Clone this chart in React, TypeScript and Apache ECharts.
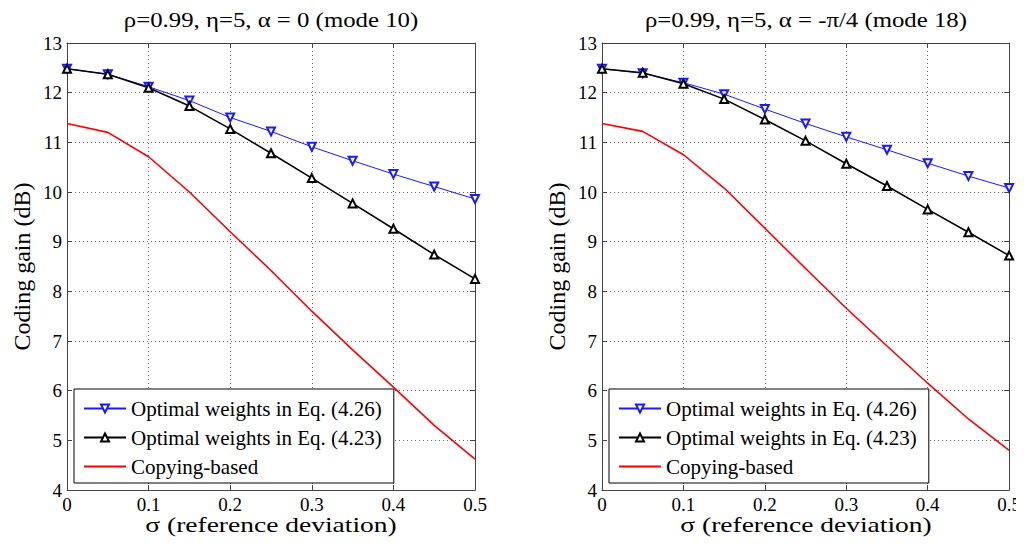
import React, { useEffect, useRef } from "react";
import * as echarts from "echarts";

const sigma = [0, 0.05, 0.1, 0.15, 0.2, 0.25, 0.3, 0.35, 0.4, 0.45, 0.5];

// Left panel: alpha = 0 (mode 10)
const leftEq426 = [12.48, 12.37, 12.12, 11.84, 11.5, 11.22, 10.91, 10.63, 10.36, 10.11, 9.86];
const leftEq423 = [12.48, 12.37, 12.1, 11.73, 11.27, 10.78, 10.28, 9.77, 9.26, 8.74, 8.25];
const leftCopy = [11.38, 11.2, 10.71, 10.0, 9.2, 8.42, 7.6, 6.82, 6.07, 5.3, 4.62];

// Right panel: alpha = -pi/4 (mode 18)
const rightEq426 = [12.48, 12.39, 12.2, 11.97, 11.67, 11.38, 11.11, 10.85, 10.58, 10.32, 10.08];
const rightEq423 = [12.48, 12.4, 12.18, 11.87, 11.46, 11.03, 10.57, 10.12, 9.65, 9.19, 8.72];
const rightCopy = [11.38, 11.22, 10.75, 10.08, 9.27, 8.46, 7.66, 6.9, 6.15, 5.43, 4.8];

const seriesNames = [
  "Optimal weights in Eq. (4.26)",
  "Optimal weights in Eq. (4.23)",
  "Copying-based",
];
const titles = [
  "ρ=0.99, η=5, α = 0 (mode 10)",
  "ρ=0.99, η=5, α = -π/4 (mode 18)",
];
const xName = "σ (reference deviation)";
const yName = "Coding gain (dB)";

const FONT = "'Liberation Serif', 'Times New Roman', serif";

export default function App() {
  const ref = useRef<HTMLDivElement>(null);
  useEffect(() => {
    if (!ref.current) return;
    const chart = echarts.init(ref.current, undefined, { renderer: "svg" });
    const grids = [
      { left: 67, right: 549, top: 43, bottom: 58 },
      { left: 602, right: 14, top: 43, bottom: 58 },
    ];
    const centers = [271, 806];
    const axisColor = "#444";
    const xAxes: any[] = [];
    const yAxes: any[] = [];
    grids.forEach((_, gi) => {
      xAxes.push({
        type: "value",
        gridIndex: gi,
        min: 0,
        max: 0.5,
        interval: 0.1,
        axisLine: { show: true, onZero: false, lineStyle: { color: axisColor } },
        axisTick: { show: true, inside: true, length: 5, lineStyle: { color: axisColor } },
        axisLabel: {
          fontFamily: FONT,
          fontSize: 19,
          color: "#000",
          margin: 5,
          formatter: (v: number) => (v === 0 ? "0" : String(Math.round(v * 10) / 10)),
        },
        splitLine: { show: true, lineStyle: { color: "#666", type: [1, 3], width: 1 } },
      });
      xAxes.push({
        type: "value",
        gridIndex: gi,
        position: "top",
        min: 0,
        max: 0.5,
        interval: 0.1,
        axisLine: { show: true, onZero: false, lineStyle: { color: axisColor } },
        axisTick: { show: true, inside: true, length: 5, lineStyle: { color: axisColor } },
        axisLabel: { show: false },
        splitLine: { show: false },
      });
      yAxes.push({
        type: "value",
        gridIndex: gi,
        min: 4,
        max: 13,
        interval: 1,
        name: yName,
        nameLocation: "middle",
        nameGap: 33,
        nameTextStyle: { fontFamily: FONT, fontSize: 24, color: "#000" },
        axisLine: { show: true, onZero: false, lineStyle: { color: axisColor } },
        axisTick: { show: true, inside: true, length: 5, lineStyle: { color: axisColor } },
        axisLabel: { fontFamily: FONT, fontSize: 19, color: "#000", margin: 5 },
        splitLine: { show: true, lineStyle: { color: "#666", type: [1, 3], width: 1 } },
      });
      yAxes.push({
        type: "value",
        gridIndex: gi,
        position: "right",
        min: 4,
        max: 13,
        interval: 1,
        axisLine: { show: true, onZero: false, lineStyle: { color: axisColor } },
        axisTick: { show: true, inside: true, length: 5, lineStyle: { color: axisColor } },
        axisLabel: { show: false },
        splitLine: { show: false },
      });
    });

    const panels = [
      [leftEq426, leftEq423, leftCopy],
      [rightEq426, rightEq423, rightCopy],
    ];
    const series: any[] = [];
    panels.forEach((p, gi) => {
      const pts = (arr: number[]) => sigma.map((s, i) => [s, arr[i]]);
      series.push({
        type: "line",
        name: seriesNames[0],
        xAxisIndex: gi * 2,
        yAxisIndex: gi * 2,
        data: pts(p[0]),
        symbol: "emptyTriangle",
        symbolRotate: 180,
        symbolSize: 8,
        lineStyle: { color: "#1a1aff", width: 1 },
        itemStyle: { color: "#1a1aff", borderWidth: 1 },
      });
      series.push({
        type: "line",
        name: seriesNames[1],
        xAxisIndex: gi * 2,
        yAxisIndex: gi * 2,
        data: pts(p[1]),
        symbol: "emptyTriangle",
        symbolSize: 8,
        lineStyle: { color: "#000", width: 1.6 },
        itemStyle: { color: "#000", borderWidth: 1.3 },
      });
      series.push({
        type: "line",
        name: seriesNames[2],
        xAxisIndex: gi * 2,
        yAxisIndex: gi * 2,
        data: pts(p[2]),
        symbol: "none",
        lineStyle: { color: "#ff0000", width: 1.6 },
        itemStyle: { color: "#ff0000" },
      });
    });

    const legendBase = {
      orient: "vertical",
      bottom: 65,
      itemWidth: 42,
      itemHeight: 10,
      itemGap: 8,
      padding: [9, 12, 6, 9],
      backgroundColor: "#fff",
      borderColor: "#000",
      borderWidth: 1,
      borderRadius: 0,
      data: [
        seriesNames[0],
        seriesNames[1],
        { name: seriesNames[2], itemStyle: { opacity: 0 } },
      ],
      selectedMode: false,
      textStyle: { fontFamily: FONT, fontSize: 21, color: "#000" },
    };

    const graphics: any[] = [];
    centers.forEach((cx, i) => {
      graphics.push({
        type: "text",
        x: cx,
        y: 20,
        scaleX: 1.24,
        style: {
          text: titles[i],
          fontFamily: FONT,
          fontSize: 20,
          fill: "#000",
          textAlign: "center",
          textVerticalAlign: "middle",
        },
      });
      graphics.push({
        type: "text",
        x: cx,
        y: 524,
        scaleX: 1.25,
        style: {
          text: xName,
          fontFamily: FONT,
          fontSize: 22,
          fill: "#000",
          textAlign: "center",
          textVerticalAlign: "middle",
        },
      });
    });

    chart.setOption({
      animation: false,
      backgroundColor: "#fff",
      grid: grids.map((g) => ({ ...g, show: false, containLabel: false })),
      xAxis: xAxes,
      yAxis: yAxes,
      legend: [
        { ...legendBase, left: 74 },
        { ...legendBase, left: 609 },
      ],
      graphic: graphics,
      series,
    });
    return () => chart.dispose();
  }, []);
  return <div ref={ref} style={{ width: 1024, height: 548, margin: -8 }} />;
}
